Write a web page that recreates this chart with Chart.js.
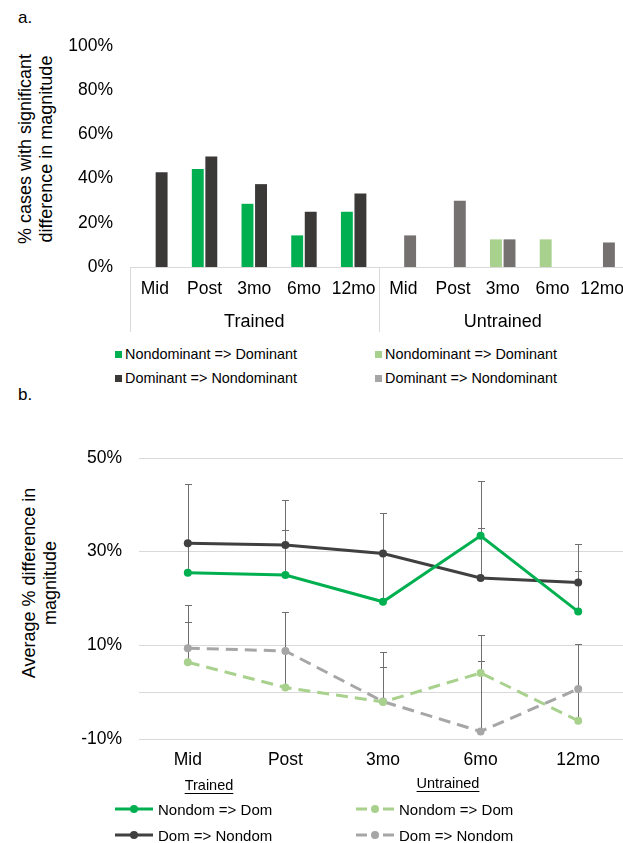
<!DOCTYPE html>
<html>
<head>
<meta charset="utf-8">
<script src="https://cdn.jsdelivr.net/npm/chart.js@4/dist/chart.umd.min.js"></script>
<style>
  html, body { margin: 0; padding: 0; background: #fff; overflow: hidden; }
  body { width: 623px; height: 843px; position: relative; font-family: "Liberation Sans", Arial, sans-serif; color: #000; }
  .abs { position: absolute; }
  .panel { font-size: 17px; }
  .ytitle { width: 320px; text-align: center; font-size: 18px; line-height: 21px; transform: rotate(-90deg); transform-origin: center; white-space: nowrap; }
  .leg { font-size: 14.4px; white-space: nowrap; display: flex; align-items: center; }
  .leg .sw { width: 7px; height: 7px; margin-right: 3px; display: inline-block; }
  .leg2 { font-size: 15px; white-space: nowrap; display: flex; align-items: center; }
  .leg2 svg { margin-right: 5px; }
  .hdr { font-size: 14.5px; text-decoration: underline; text-underline-offset: 3px; white-space: nowrap; transform: translateX(-50%); }
</style>
</head>
<body>
<div class="abs panel" style="left:18px; top:8px;">a.</div>
<div class="abs panel" style="left:18px; top:385px;">b.</div>

<div class="abs ytitle" style="left:-124.5px; top:128px;">% cases with significant<br>difference in magnitude</div>
<div class="abs ytitle" style="left:-120px; top:562px;">Average % difference in<br>magnitude</div>

<canvas id="chartA" class="abs" style="left:0; top:0;" width="640" height="345"></canvas>
<div id="legendA"></div>

<canvas id="chartB" class="abs" style="left:0; top:400px;" width="640" height="380"></canvas>
<div id="legendB"></div>

<script>
// ---- Panel a: share of cases with a significant difference ----
const barCategories = ['Mid', 'Post', '3mo', '6mo', '12mo', 'Mid', 'Post', '3mo', '6mo', '12mo'];
const barGroups = ['Trained', 'Untrained'];
const trainedNonToDom   = [0, 44.4, 28.6, 14.3, 25.0, null, null, null, null, null];
const trainedDomToNon   = [42.9, 50.0, 37.5, 25.0, 33.3, null, null, null, null, null];
const untrainedNonToDom = [null, null, null, null, null, 0, 0, 12.5, 12.5, 0];
const untrainedDomToNon = [null, null, null, null, null, 14.3, 30.0, 12.5, 0, 11.1];
const barTicks = [0, 20, 40, 60, 80, 100];

// ---- Panel b: average % difference in magnitude ----
const timepoints = ['Mid', 'Post', '3mo', '6mo', '12mo'];
const trainedNonDom      = [25.5, 25.0, 19.3, 33.4, 17.2];
const trainedNonDomErr   = [6.3, 9.7, 10.3, 11.6, 8.6];
const trainedDomNon      = [31.8, 31.4, 29.6, 24.4, 23.4];
const trainedDomNonErr   = [12.7, 9.6, 8.6, 10.6, 8.3];
const untrainedNonDom    = [6.4, 1.0, -2.1, 4.1, -6.1];
const untrainedNonDomErr = [8.5, 7.9, 7.5, 8.0, 6.8];
const untrainedDomNon    = [9.4, 8.8, -2.0, -8.4, 0.7];
const untrainedDomNonErr = [9.3, 8.3, 10.6, 15.0, 9.5];
const lineTicks = [-10, 0, 10, 30, 50];

const FONT = '"Liberation Sans", Arial, sans-serif';
const GREEN = '#00B050', DARK = '#3B3838', LIGHTGREEN = '#A9D18E', GREY = '#767171';
const LINE_DARK = '#404040', LINE_GREY = '#A6A6A6';

// Group captions and separators under the category axis
const groupAxisPlugin = {
  id: 'groupAxis',
  afterDraw(chart, args, opts) {
    const {ctx, chartArea} = chart;
    const x = chart.scales.x;
    const half = (x.getPixelForValue(1) - x.getPixelForValue(0)) / 2;
    const size = opts.groups.length ? barCategories.length / opts.groups.length : 0;
    ctx.save();
    ctx.strokeStyle = '#d9d9d9';
    ctx.lineWidth = 1;
    ctx.fillStyle = '#000';
    ctx.font = '18px ' + FONT;
    ctx.textAlign = 'center';
    ctx.textBaseline = 'middle';
    opts.groups.forEach((g, gi) => {
      const left = x.getPixelForValue(gi * size) - half;
      const right = x.getPixelForValue(gi * size + size - 1) + half;
      ctx.beginPath();
      ctx.moveTo(Math.round(left) + 0.5, chartArea.bottom);
      ctx.lineTo(Math.round(left) + 0.5, chartArea.bottom + opts.depth);
      ctx.stroke();
      ctx.fillText(g, (left + right) / 2, chartArea.bottom + opts.labelOffset);
    });
    ctx.restore();
  }
};

// Upward error bars for each point
const errorBarPlugin = {
  id: 'errorBars',
  beforeDatasetsDraw(chart) {
    const {ctx} = chart;
    const y = chart.scales.y;
    ctx.save();
    ctx.strokeStyle = '#6f6f6f';
    ctx.lineWidth = 1;
    chart.data.datasets.forEach((ds, i) => {
      if (!ds.errorPlus) return;
      chart.getDatasetMeta(i).data.forEach((pt, j) => {
        const v = ds.data[j], e = ds.errorPlus[j];
        if (v == null || e == null) return;
        const px = Math.round(pt.x) + 0.5;
        const y0 = y.getPixelForValue(v), y1 = Math.round(y.getPixelForValue(v + e)) + 0.5;
        ctx.beginPath();
        ctx.moveTo(px, y0);
        ctx.lineTo(px, y1);
        ctx.moveTo(px - 3.5, y1);
        ctx.lineTo(px + 3.5, y1);
        ctx.stroke();
      });
    });
    ctx.restore();
  }
};

const pct = v => v + '%';

const barDatasets = [
  {label: 'Nondominant => Dominant', data: trainedNonToDom, backgroundColor: GREEN, swatch: GREEN, stack: 'nd'},
  {label: 'Dominant => Nondominant', data: trainedDomToNon, backgroundColor: DARK, swatch: DARK, stack: 'dn'},
  {label: 'Nondominant => Dominant', data: untrainedNonToDom, backgroundColor: LIGHTGREEN, swatch: LIGHTGREEN, stack: 'nd'},
  {label: 'Dominant => Nondominant', data: untrainedDomToNon, backgroundColor: GREY, swatch: LINE_GREY, stack: 'dn'}
];

new Chart(document.getElementById('chartA'), {
  type: 'bar',
  data: {
    labels: barCategories,
    datasets: barDatasets.map(d => ({
      label: d.label, data: d.data, backgroundColor: d.backgroundColor, stack: d.stack,
      categoryPercentage: 0.545, barPercentage: 0.88, borderWidth: 0
    }))
  },
  options: {
    responsive: false,
    animation: false,
    events: [],
    layout: {padding: {left: 0, right: 13, top: 46, bottom: 0}},
    plugins: {
      legend: {display: false},
      tooltip: {enabled: false},
      groupAxis: {groups: barGroups, depth: 65, labelOffset: 55}
    },
    scales: {
      x: {
        stacked: true,
        grid: {display: false, drawTicks: false},
        border: {display: true, color: '#d9d9d9', width: 1},
        ticks: {color: '#000', font: {family: FONT, size: 17.5}, padding: 12, autoSkip: false, maxRotation: 0},
        afterFit: s => { s.height = 78; }
      },
      y: {
        stacked: true,
        min: 0, max: 100,
        afterBuildTicks: s => { s.ticks = barTicks.map(v => ({value: v})); },
        grid: {display: false, drawTicks: false},
        border: {display: false},
        ticks: {color: '#000', font: {family: FONT, size: 17.5}, padding: 17, callback: pct},
        afterFit: s => { s.width = 130; }
      }
    }
  },
  plugins: [groupAxisPlugin]
});

// Legend for panel a (two columns)
(function () {
  const host = document.getElementById('legendA');
  const cols = [115, 375], rows = [354, 378];
  barDatasets.forEach((d, i) => {
    const el = document.createElement('div');
    el.className = 'abs leg';
    el.style.left = cols[Math.floor(i / 2)] + 'px';
    el.style.top = (rows[i % 2] - 9) + 'px';
    el.style.height = '18px';
    el.innerHTML = '<span class="sw" style="background:' + d.swatch + '"></span>' + d.label;
    host.appendChild(el);
  });
})();

const lineDatasets = [
  {label: 'Nondom => Dom', group: 'Trained', data: trainedNonDom, errorPlus: trainedNonDomErr, color: GREEN, dash: []},
  {label: 'Dom => Nondom', group: 'Trained', data: trainedDomNon, errorPlus: trainedDomNonErr, color: LINE_DARK, dash: []},
  {label: 'Nondom => Dom', group: 'Untrained', data: untrainedNonDom, errorPlus: untrainedNonDomErr, color: LIGHTGREEN, dash: [12, 7]},
  {label: 'Dom => Nondom', group: 'Untrained', data: untrainedDomNon, errorPlus: untrainedDomNonErr, color: LINE_GREY, dash: [12, 7]}
];

new Chart(document.getElementById('chartB'), {
  type: 'line',
  data: {
    labels: timepoints,
    datasets: lineDatasets.map(d => ({
      label: d.label,
      data: d.data,
      errorPlus: d.errorPlus,
      borderColor: d.color,
      backgroundColor: d.color,
      borderWidth: 3,
      borderDash: d.dash,
      pointRadius: 4,
      pointBorderWidth: 0,
      pointBackgroundColor: d.color,
      tension: 0,
      fill: false
    }))
  },
  options: {
    responsive: false,
    animation: false,
    events: [],
    layout: {padding: {left: 0, right: 13, top: 58, bottom: 0}},
    plugins: {legend: {display: false}, tooltip: {enabled: false}},
    scales: {
      x: {
        offset: true,
        grid: {display: false, drawTicks: false},
        border: {display: false},
        ticks: {color: '#000', font: {family: FONT, size: 17.5}, padding: 11, autoSkip: false, maxRotation: 0},
        afterFit: s => { s.height = 41; }
      },
      y: {
        min: -10, max: 50,
        afterBuildTicks: s => { s.ticks = lineTicks.map(v => ({value: v})); },
        grid: {color: '#d9d9d9', lineWidth: 1, drawTicks: false},
        border: {display: false},
        ticks: {color: '#000', font: {family: FONT, size: 17.5}, padding: 17, callback: v => (v === 0 ? '' : pct(v))},
        afterFit: s => { s.width = 139; }
      }
    }
  },
  plugins: [errorBarPlugin]
});

// Legend for panel b: group headers and line swatches
(function () {
  const host = document.getElementById('legendB');
  const headers = [{text: 'Trained', x: 209, y: 777}, {text: 'Untrained', x: 448, y: 775}];
  headers.forEach(h => {
    const el = document.createElement('div');
    el.className = 'abs hdr';
    el.style.left = h.x + 'px';
    el.style.top = h.y + 'px';
    el.textContent = h.text;
    host.appendChild(el);
  });
  const cols = [115, 356], rows = [809, 835];
  lineDatasets.forEach((d, i) => {
    const col = d.group === 'Trained' ? 0 : 1;
    const row = i % 2;
    const dashed = d.dash.length > 0;
    const seg = dashed
      ? '<line x1="0" y1="9" x2="11" y2="9" stroke="' + d.color + '" stroke-width="3"/><line x1="27" y1="9" x2="38" y2="9" stroke="' + d.color + '" stroke-width="3"/>'
      : '<line x1="0" y1="9" x2="38" y2="9" stroke="' + d.color + '" stroke-width="3"/>';
    const el = document.createElement('div');
    el.className = 'abs leg2';
    el.style.left = cols[col] + 'px';
    el.style.top = (rows[row] - 9) + 'px';
    el.style.height = '18px';
    el.innerHTML = '<svg width="38" height="18">' + seg + '<circle cx="19" cy="9" r="4" fill="' + d.color + '"/></svg>' + d.label;
    host.appendChild(el);
  });
})();
</script>
</body>
</html>
